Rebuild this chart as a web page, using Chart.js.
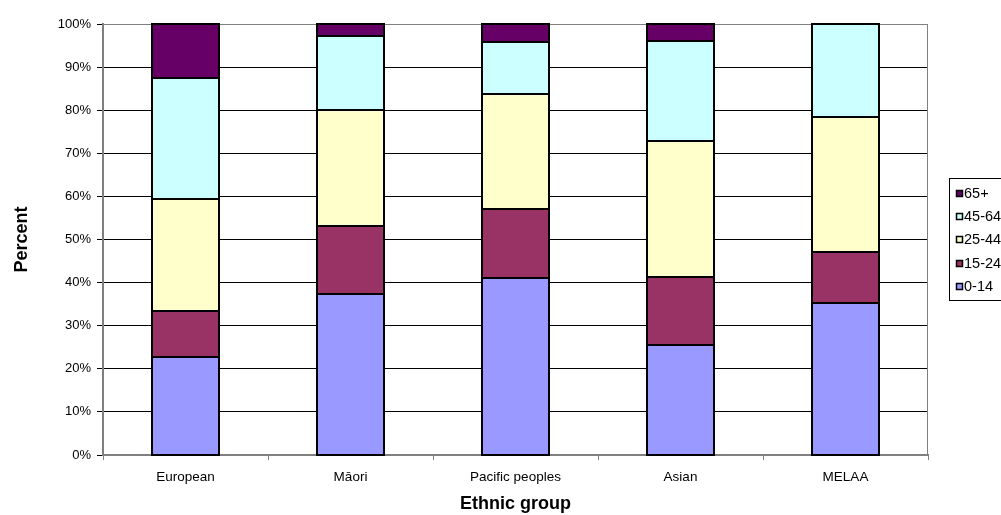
<!DOCTYPE html>
<html>
<head>
<meta charset="utf-8">
<title>Age structure by ethnic group</title>
<script src="https://cdn.jsdelivr.net/npm/chart.js@4/dist/chart.umd.min.js"></script>
<style>
  html, body { margin: 0; padding: 0; background: #fff; }
  #wrap { width: 1001px; height: 515px; position: relative; }
</style>
</head>
<body>
<div id="wrap"><canvas id="c" width="1001" height="515"></canvas></div>
<script>
// Ethnic groups along the x axis
const categories = ['European', 'M\u0101ori', 'Pacific peoples', 'Asian', 'MELAA'];

// Share of each group in each age band (percent)
const age0to14  = [22.8, 37.4, 41.0, 25.5, 35.3];
const age15to24 = [10.6, 15.7, 16.1, 15.8, 11.7];
const age25to44 = [26.1, 26.9, 26.6, 31.6, 31.4];
const age45to64 = [28.0, 17.1, 12.1, 23.2, 21.6];
const age65plus = [12.5,  2.9,  4.2,  3.9,  0.0];

const seriesNames = ['0-14', '15-24', '25-44', '45-64', '65+'];
const seriesValues = [age0to14, age15to24, age25to44, age45to64, age65plus];
const seriesColors = ['#9999FF', '#993366', '#FFFFCC', '#CCFFFF', '#660066'];

const yTicks = [0, 10, 20, 30, 40, 50, 60, 70, 80, 90, 100];

const FONT = "'Liberation Sans', Arial, sans-serif";

// Gray frame around the plot area
const plotFrame = {
  id: 'plotFrame',
  beforeDatasetsDraw(chart) {
    const { ctx, chartArea: a } = chart;
    ctx.save();
    ctx.strokeStyle = '#808080';
    ctx.lineWidth = 1;
    ctx.strokeRect(a.left + 0.5, a.top + 0.5, a.right - a.left - 1, a.bottom - a.top);
    ctx.restore();
  }
};

// Crisp black outline around every stacked segment, taken from the bar elements
const segmentOutlines = {
  id: 'segmentOutlines',
  afterDatasetsDraw(chart) {
    const { ctx } = chart;
    ctx.save();
    ctx.strokeStyle = '#000';
    ctx.lineWidth = 2;
    chart.data.datasets.forEach((d, i) => {
      const meta = chart.getDatasetMeta(i);
      meta.data.forEach(el => {
        const p = el.getProps(['x', 'y', 'base', 'width'], true);
        if (Math.abs(p.base - p.y) < 0.5) return;
        const l = Math.round(p.x - p.width / 2);
        const r = Math.round(p.x + p.width / 2);
        const t = Math.round(Math.min(p.y, p.base));
        const b = Math.round(Math.max(p.y, p.base));
        ctx.strokeRect(l, t, r - l, b - t);
      });
    });
    ctx.restore();
  }
};

// Boxed legend on the right, top entry = top of the stack
const sideLegend = {
  id: 'sideLegend',
  afterDraw(chart) {
    const { ctx } = chart;
    const ds = chart.data.datasets;
    const boxX = 949, boxY = 178, boxH = 122;
    ctx.save();
    ctx.strokeStyle = '#000';
    ctx.lineWidth = 1;
    ctx.strokeRect(boxX + 0.5, boxY + 0.5, 80, boxH);
    ctx.font = '14.5px ' + FONT;
    ctx.textBaseline = 'middle';
    const n = ds.length;
    for (let i = 0; i < n; i++) {
      const d = ds[n - 1 - i];
      const cy = Math.round(193 + i * 23.2);
      ctx.fillStyle = d.backgroundColor;
      ctx.fillRect(956, cy - 3, 7, 7);
      ctx.strokeStyle = '#000';
      ctx.lineWidth = 1.5;
      ctx.strokeRect(956.5, cy - 2.5, 6, 6);
      ctx.fillStyle = '#000';
      ctx.fillText(d.label, 964, cy + 1);
    }
    ctx.restore();
  }
};

const datasets = seriesNames.map((name, i) => ({
  label: name,
  data: seriesValues[i],
  backgroundColor: seriesColors[i],
  borderWidth: 0,
  barPercentage: 0.41,
  categoryPercentage: 1.0
}));

new Chart(document.getElementById('c'), {
  type: 'bar',
  data: { labels: categories, datasets },
  plugins: [plotFrame, segmentOutlines, sideLegend],
  options: {
    responsive: false,
    animation: false,
    devicePixelRatio: 1,
    layout: { padding: { top: 24, right: 73, left: 0, bottom: 0 } },
    plugins: {
      legend: { display: false },
      tooltip: { enabled: false }
    },
    scales: {
      x: {
        stacked: true,
        offset: true,
        afterFit(scale) { scale.height = 60; },
        grid: {
          offset: true,
          drawOnChartArea: false,
          drawTicks: true,
          tickLength: 5,
          color: '#808080'
        },
        border: { color: '#808080', width: 2 },
        ticks: {
          color: '#000',
          padding: 9,
          font: { family: FONT, size: 13.5 }
        },
        title: {
          display: true,
          text: 'Ethnic group',
          color: '#000',
          font: { family: FONT, size: 18, weight: 'bold' },
          padding: { top: 0, bottom: 0 }
        }
      },
      y: {
        stacked: true,
        min: 0,
        max: 100,
        afterFit(scale) { scale.width = 103; },
        afterBuildTicks(scale) { scale.ticks = yTicks.map(v => ({ value: v })); },
        grid: {
          color: ctx => (ctx.tick && (ctx.tick.value === 100 || ctx.tick.value === 0)) ? '#808080' : '#000',
          lineWidth: 1,
          tickLength: 6,
          tickColor: '#000'
        },
        border: { color: '#808080', width: 2 },
        ticks: {
          color: '#000',
          padding: 6,
          font: { family: FONT, size: 13 },
          callback: v => v + '%'
        },
        title: {
          display: true,
          text: 'Percent',
          color: '#000',
          font: { family: FONT, size: 18, weight: 'bold' },
          padding: { top: 11, bottom: 0 }
        }
      }
    }
  }
});
</script>
</body>
</html>
